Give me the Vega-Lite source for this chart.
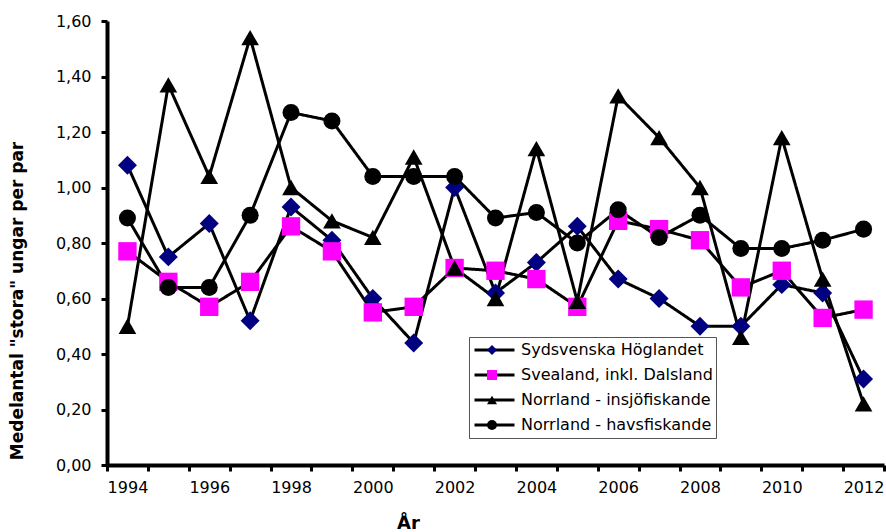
{
  "$schema": "https://vega.github.io/schema/vega-lite/v6.json",
  "width": 777,
  "height": 444,
  "autosize": {"type": "none"},
  "padding": {"left": 107, "top": 21, "right": 2, "bottom": 67},
  "background": "white",
  "config": {
    "view": {"stroke": null},
    "font": "DejaVu Sans",
    "axis": {
      "grid": false,
      "domainColor": "black",
      "domainWidth": 4,
      "tickColor": "black",
      "tickWidth": 3,
      "tickSize": 6,
      "labelFont": "DejaVu Sans",
      "labelFontSize": 16,
      "labelColor": "black",
      "titleFont": "DejaVu Sans",
      "titleFontWeight": "bold",
      "titleColor": "black"
    }
  },
  "data": {
    "values": [
      {"year": 1994, "series": "Sydsvenska Höglandet", "value": 1.08},
      {"year": 1995, "series": "Sydsvenska Höglandet", "value": 0.75},
      {"year": 1996, "series": "Sydsvenska Höglandet", "value": 0.87},
      {"year": 1997, "series": "Sydsvenska Höglandet", "value": 0.52},
      {"year": 1998, "series": "Sydsvenska Höglandet", "value": 0.93},
      {"year": 1999, "series": "Sydsvenska Höglandet", "value": 0.81},
      {"year": 2000, "series": "Sydsvenska Höglandet", "value": 0.60},
      {"year": 2001, "series": "Sydsvenska Höglandet", "value": 0.44},
      {"year": 2002, "series": "Sydsvenska Höglandet", "value": 1.00},
      {"year": 2003, "series": "Sydsvenska Höglandet", "value": 0.62},
      {"year": 2004, "series": "Sydsvenska Höglandet", "value": 0.73},
      {"year": 2005, "series": "Sydsvenska Höglandet", "value": 0.86},
      {"year": 2006, "series": "Sydsvenska Höglandet", "value": 0.67},
      {"year": 2007, "series": "Sydsvenska Höglandet", "value": 0.60},
      {"year": 2008, "series": "Sydsvenska Höglandet", "value": 0.50},
      {"year": 2009, "series": "Sydsvenska Höglandet", "value": 0.50},
      {"year": 2010, "series": "Sydsvenska Höglandet", "value": 0.65},
      {"year": 2011, "series": "Sydsvenska Höglandet", "value": 0.62},
      {"year": 2012, "series": "Sydsvenska Höglandet", "value": 0.31},
      {"year": 1994, "series": "Svealand, inkl. Dalsland", "value": 0.77},
      {"year": 1995, "series": "Svealand, inkl. Dalsland", "value": 0.66},
      {"year": 1996, "series": "Svealand, inkl. Dalsland", "value": 0.57},
      {"year": 1997, "series": "Svealand, inkl. Dalsland", "value": 0.66},
      {"year": 1998, "series": "Svealand, inkl. Dalsland", "value": 0.86},
      {"year": 1999, "series": "Svealand, inkl. Dalsland", "value": 0.77},
      {"year": 2000, "series": "Svealand, inkl. Dalsland", "value": 0.55},
      {"year": 2001, "series": "Svealand, inkl. Dalsland", "value": 0.57},
      {"year": 2002, "series": "Svealand, inkl. Dalsland", "value": 0.71},
      {"year": 2003, "series": "Svealand, inkl. Dalsland", "value": 0.70},
      {"year": 2004, "series": "Svealand, inkl. Dalsland", "value": 0.67},
      {"year": 2005, "series": "Svealand, inkl. Dalsland", "value": 0.57},
      {"year": 2006, "series": "Svealand, inkl. Dalsland", "value": 0.88},
      {"year": 2007, "series": "Svealand, inkl. Dalsland", "value": 0.85},
      {"year": 2008, "series": "Svealand, inkl. Dalsland", "value": 0.81},
      {"year": 2009, "series": "Svealand, inkl. Dalsland", "value": 0.64},
      {"year": 2010, "series": "Svealand, inkl. Dalsland", "value": 0.70},
      {"year": 2011, "series": "Svealand, inkl. Dalsland", "value": 0.53},
      {"year": 2012, "series": "Svealand, inkl. Dalsland", "value": 0.56},
      {"year": 1994, "series": "Norrland - insjöfiskande", "value": 0.50},
      {"year": 1995, "series": "Norrland - insjöfiskande", "value": 1.37},
      {"year": 1996, "series": "Norrland - insjöfiskande", "value": 1.04},
      {"year": 1997, "series": "Norrland - insjöfiskande", "value": 1.54},
      {"year": 1998, "series": "Norrland - insjöfiskande", "value": 1.00},
      {"year": 1999, "series": "Norrland - insjöfiskande", "value": 0.88},
      {"year": 2000, "series": "Norrland - insjöfiskande", "value": 0.82},
      {"year": 2001, "series": "Norrland - insjöfiskande", "value": 1.11},
      {"year": 2002, "series": "Norrland - insjöfiskande", "value": 0.71},
      {"year": 2003, "series": "Norrland - insjöfiskande", "value": 0.60},
      {"year": 2004, "series": "Norrland - insjöfiskande", "value": 1.14},
      {"year": 2005, "series": "Norrland - insjöfiskande", "value": 0.59},
      {"year": 2006, "series": "Norrland - insjöfiskande", "value": 1.33},
      {"year": 2007, "series": "Norrland - insjöfiskande", "value": 1.18},
      {"year": 2008, "series": "Norrland - insjöfiskande", "value": 1.00},
      {"year": 2009, "series": "Norrland - insjöfiskande", "value": 0.46},
      {"year": 2010, "series": "Norrland - insjöfiskande", "value": 1.18},
      {"year": 2011, "series": "Norrland - insjöfiskande", "value": 0.67},
      {"year": 2012, "series": "Norrland - insjöfiskande", "value": 0.22},
      {"year": 1994, "series": "Norrland - havsfiskande", "value": 0.89},
      {"year": 1995, "series": "Norrland - havsfiskande", "value": 0.64},
      {"year": 1996, "series": "Norrland - havsfiskande", "value": 0.64},
      {"year": 1997, "series": "Norrland - havsfiskande", "value": 0.90},
      {"year": 1998, "series": "Norrland - havsfiskande", "value": 1.27},
      {"year": 1999, "series": "Norrland - havsfiskande", "value": 1.24},
      {"year": 2000, "series": "Norrland - havsfiskande", "value": 1.04},
      {"year": 2001, "series": "Norrland - havsfiskande", "value": 1.04},
      {"year": 2002, "series": "Norrland - havsfiskande", "value": 1.04},
      {"year": 2003, "series": "Norrland - havsfiskande", "value": 0.89},
      {"year": 2004, "series": "Norrland - havsfiskande", "value": 0.91},
      {"year": 2005, "series": "Norrland - havsfiskande", "value": 0.80},
      {"year": 2006, "series": "Norrland - havsfiskande", "value": 0.92},
      {"year": 2007, "series": "Norrland - havsfiskande", "value": 0.82},
      {"year": 2008, "series": "Norrland - havsfiskande", "value": 0.90},
      {"year": 2009, "series": "Norrland - havsfiskande", "value": 0.78},
      {"year": 2010, "series": "Norrland - havsfiskande", "value": 0.78},
      {"year": 2011, "series": "Norrland - havsfiskande", "value": 0.81},
      {"year": 2012, "series": "Norrland - havsfiskande", "value": 0.85}
    ]
  },
  "encoding": {
    "x": {
      "field": "year",
      "type": "ordinal",
      "scale": {"type": "band", "paddingInner": 0, "paddingOuter": 0},
      "axis": {
        "title": "År",
        "titleFontSize": 18,
        "titleX": 301,
        "titleY": 63,
        "titleAnchor": null,
        "titleAlign": "center",
        "titleBaseline": "alphabetic",
        "labelAngle": 0,
        "tickBand": "extent",
        "labelPadding": 8,
        "labelExpr": "datum.value % 2 == 0 ? datum.label : ''"
      }
    },
    "y": {
      "field": "value",
      "type": "quantitative",
      "scale": {"domain": [0, 1.6], "nice": false, "zero": true},
      "axis": {
        "title": "Medelantal \"stora\" ungar per par",
        "titleFontSize": 17,
        "titleAngle": -90,
        "titleX": -89.5,
        "titleY": 279.5,
        "titleAlign": "center",
        "titleBaseline": "middle",
        "values": [0, 0.2, 0.4, 0.6, 0.8, 1.0, 1.2, 1.4, 1.6],
        "labelPadding": 10,
        "labelExpr": "replace(format(datum.value, '.2f'), '.', ',')"
      }
    }
  },
  "layer": [
    {
      "mark": {"type": "line", "color": "black", "strokeWidth": 3},
      "encoding": {
        "strokeDash": {
          "field": "series",
          "type": "nominal",
          "scale": {"range": [[1, 0], [1, 0], [1, 0], [1, 0]]},
          "legend": {
            "orient": "none",
            "legendX": 362,
            "legendY": 316,
            "title": null,
            "padding": 3,
            "symbolType": "stroke",
            "symbolSize": 1600,
            "symbolStrokeWidth": 3,
            "symbolStrokeColor": "black",
            "symbolOffset": 1,
            "clipHeight": 20,
            "rowPadding": 5,
            "labelFont": "DejaVu Sans",
            "labelFontSize": 16,
            "labelLimit": 0,
            "labelExpr": "''",
            "zindex": 0
          }
        }
      }
    },
    {
      "mark": {"type": "point", "filled": true, "opacity": 1, "strokeWidth": 0},
      "encoding": {
        "shape": {
          "field": "series",
          "type": "nominal",
          "scale": {
            "domain": ["Sydsvenska Höglandet", "Svealand, inkl. Dalsland", "Norrland - insjöfiskande", "Norrland - havsfiskande"],
            "range": ["diamond", "square", "triangle-up", "circle"]
          },
          "legend": {
            "orient": "none",
            "legendX": 362,
            "legendY": 316,
            "title": null,
            "padding": 3,
            "strokeColor": "#555555",
            "symbolSize": 100,
            "symbolStrokeWidth": 0,
            "symbolOffset": 12,
            "labelOffset": 21,
            "clipHeight": 20,
            "rowPadding": 5,
            "labelFont": "DejaVu Sans",
            "labelFontSize": 16,
            "labelLimit": 0,
            "labelColor": "black",
            "zindex": 1,
            "encode": {
              "symbols": {
                "update": {
                  "size": {"signal": "datum.value === 'Svealand, inkl. Dalsland' ? 144 : datum.value === 'Norrland - insjöfiskande' ? 150 : 70"}
                }
              }
            }
          }
        },
        "fill": {
          "field": "series",
          "type": "nominal",
          "scale": {
            "domain": ["Sydsvenska Höglandet", "Svealand, inkl. Dalsland", "Norrland - insjöfiskande", "Norrland - havsfiskande"],
            "range": ["#000080", "#FF00FF", "#000000", "#000000"]
          }
        },
        "size": {
          "field": "series",
          "type": "nominal",
          "scale": {
            "domain": ["Norrland - havsfiskande", "Norrland - insjöfiskande", "Svealand, inkl. Dalsland", "Sydsvenska Höglandet"],
            "range": [290, 360, 400, 300]
          },
          "legend": null
        }
      }
    }
  ]
}
